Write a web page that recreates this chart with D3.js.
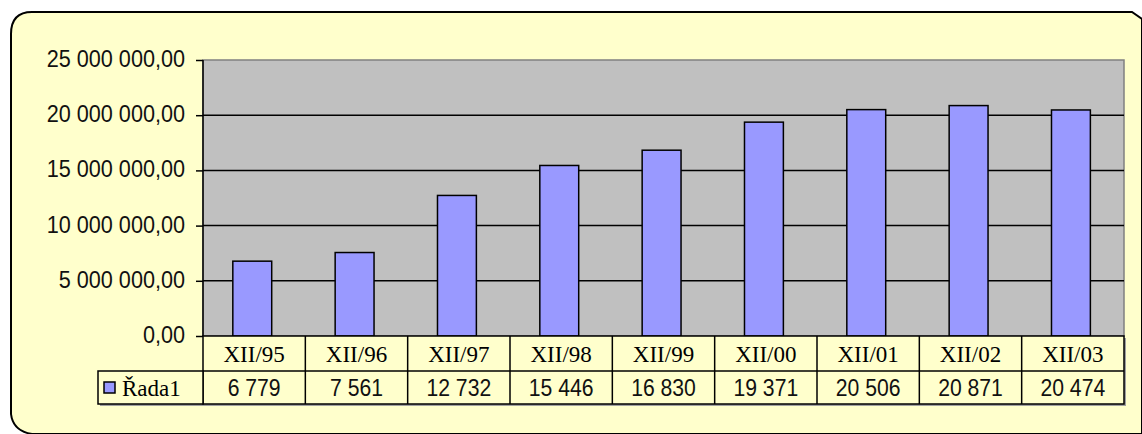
<!DOCTYPE html>
<html>
<head>
<meta charset="utf-8">
<script src="https://cdn.jsdelivr.net/npm/d3@7"></script>
<style>
  body { margin: 0; background: #fff; }
  svg { display: block; }
  .num { font-family: "Liberation Sans", sans-serif; font-size: 23px; fill: #111; }
  .cat { font-family: "Liberation Serif", serif; font-size: 23px; fill: #000; }
</style>
</head>
<body>
<svg width="1142" height="434"></svg>
<script>
var categories = ["XII/95", "XII/96", "XII/97", "XII/98", "XII/99", "XII/00", "XII/01", "XII/02", "XII/03"];
// values in thousands, as printed in the data table
var values = [6779, 7561, 12732, 15446, 16830, 19371, 20506, 20871, 20474];
var seriesName = "Řada1";
var yTicks = [0, 5000000, 10000000, 15000000, 20000000, 25000000];

var svg = d3.select("svg"),
    width = +svg.attr("width"),
    height = +svg.attr("height");

var plot = {left: 203, right: 1124, top: 60, bottom: 336};
var row1 = 371, row2 = 404, legendLeft = 98;

var cz = d3.formatLocale({decimal: ",", thousands: " ", grouping: [3], currency: ["", ""]});
var fmtTick = cz.format(",.2f"),
    fmtVal = cz.format(",d");

// squeeze text horizontally a bit, the original font is narrow
function condense(sel, k) {
  sel.each(function() {
    var w = this.getComputedTextLength();
    d3.select(this).attr("textLength", w * k).attr("lengthAdjust", "spacingAndGlyphs");
  });
}

// outer chart frame
svg.append("path")
    .attr("d", "M11,34 Q11,12 32,12 L1132,12 L1142,19 L1142,434 L32,434 Q13,431 11,414 Z")
    .attr("fill", "#ffffcc")
    .attr("stroke", "#000")
    .attr("stroke-width", 2);

var x = d3.scaleBand()
    .domain(categories)
    .range([plot.left, plot.right])
    .paddingInner(0.62)
    .paddingOuter(0.31)
    .align(0.47);

var y = d3.scaleLinear()
    .domain([0, 25000000])
    .range([plot.bottom, plot.top]);

// plot area
svg.append("rect")
    .attr("x", plot.left)
    .attr("y", plot.top)
    .attr("width", plot.right - plot.left)
    .attr("height", plot.bottom - plot.top)
    .attr("fill", "#c0c0c0")
    .attr("stroke", "#808080")
    .attr("stroke-width", 1.5);

// gridlines
svg.append("g")
  .selectAll("line")
  .data(yTicks.filter(function(d) { return d > 0 && d < 25000000; }))
  .enter().append("line")
    .attr("x1", plot.left)
    .attr("x2", plot.right)
    .attr("y1", function(d) { return y(d); })
    .attr("y2", function(d) { return y(d); })
    .attr("stroke", "#000")
    .attr("stroke-width", 1.5);

// bars
svg.append("g")
  .selectAll("rect")
  .data(values)
  .enter().append("rect")
    .attr("x", function(d, i) { return x(categories[i]); })
    .attr("y", function(d) { return y(d * 1000); })
    .attr("width", x.bandwidth())
    .attr("height", function(d) { return y(0) - y(d * 1000); })
    .attr("fill", "#9999ff")
    .attr("stroke", "#000")
    .attr("stroke-width", 1.5);

// y axis
var yAxis = svg.append("g")
    .attr("transform", "translate(" + plot.left + ",0)")
    .call(d3.axisLeft(y).tickValues(yTicks).tickFormat(fmtTick).tickSize(7).tickPadding(11));
yAxis.select(".domain").attr("stroke", "#000").attr("stroke-width", 1.5).attr("d", "M0," + plot.top + "V" + plot.bottom);
yAxis.selectAll(".tick line").attr("stroke", "#000").attr("stroke-width", 1.5);
yAxis.selectAll(".tick text")
    .attr("class", "num")
    .attr("font-family", null)
    .attr("font-size", null)
    .attr("fill", null)
    .attr("dy", "0.28em")
    .call(condense, 0.94);

// data table
var table = svg.append("g");
var edges = d3.range(categories.length + 1).map(function(i) {
  return plot.left + i * (plot.right - plot.left) / categories.length;
});

table.append("rect")
    .attr("x", plot.left + 2).attr("y", plot.bottom + 2)
    .attr("width", plot.right - plot.left).attr("height", row2 - plot.bottom)
    .attr("fill", "#a0a0a0");
table.append("rect")
    .attr("x", legendLeft + 2).attr("y", row1 + 2)
    .attr("width", plot.left - legendLeft).attr("height", row2 - row1)
    .attr("fill", "#a0a0a0");

table.append("rect")
    .attr("x", plot.left).attr("y", plot.bottom)
    .attr("width", plot.right - plot.left).attr("height", row2 - plot.bottom)
    .attr("fill", "#ffffcc").attr("stroke", "#000").attr("stroke-width", 1.5);
table.append("rect")
    .attr("x", legendLeft).attr("y", row1)
    .attr("width", plot.left - legendLeft).attr("height", row2 - row1)
    .attr("fill", "#ffffcc").attr("stroke", "#000").attr("stroke-width", 1.5);
table.append("line")
    .attr("x1", plot.left).attr("x2", plot.right)
    .attr("y1", row1).attr("y2", row1)
    .attr("stroke", "#000").attr("stroke-width", 1.5);
table.selectAll("line.sep")
  .data(edges.slice(1, -1))
  .enter().append("line")
    .attr("class", "sep")
    .attr("x1", function(d) { return d; }).attr("x2", function(d) { return d; })
    .attr("y1", plot.bottom).attr("y2", row2)
    .attr("stroke", "#000").attr("stroke-width", 1.5);

table.selectAll("text.cat")
  .data(categories)
  .enter().append("text")
    .attr("class", "cat")
    .attr("x", function(d, i) { return (edges[i] + edges[i + 1]) / 2; })
    .attr("y", (plot.bottom + row1) / 2 + 8)
    .attr("text-anchor", "middle")
    .text(function(d) { return d; });

table.selectAll("text.num")
  .data(values)
  .enter().append("text")
    .attr("class", "num")
    .attr("x", function(d, i) { return (edges[i] + edges[i + 1]) / 2; })
    .attr("y", (row1 + row2) / 2 + 8)
    .attr("text-anchor", "middle")
    .text(function(d) { return fmtVal(d); })
    .call(condense, 0.92);

// legend key
table.append("rect")
    .attr("x", 104).attr("y", 382)
    .attr("width", 11).attr("height", 11)
    .attr("fill", "#9999ff").attr("stroke", "#000").attr("stroke-width", 1.5);
table.append("text")
    .attr("class", "cat")
    .attr("x", 122)
    .attr("y", (row1 + row2) / 2 + 8)
    .text(seriesName);
</script>
</body>
</html>
